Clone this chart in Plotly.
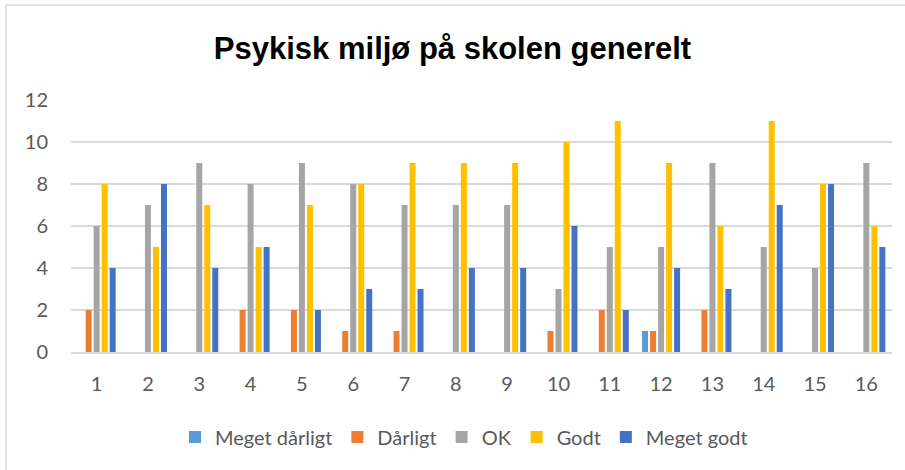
import plotly.graph_objects as go

categories = [str(i) for i in range(1, 17)]
series_names = ["Meget dårligt", "Dårligt", "OK", "Godt", "Meget godt"]
meget_darligt = [0, 0, 0, 0, 0, 0, 0, 0, 0, 0, 0, 1, 0, 0, 0, 0]
darligt = [2, 0, 0, 2, 2, 1, 1, 0, 0, 1, 2, 1, 2, 0, 0, 0]
ok = [6, 7, 9, 8, 9, 8, 7, 7, 7, 3, 5, 5, 9, 5, 4, 9]
godt = [8, 5, 7, 5, 7, 8, 9, 9, 9, 10, 11, 9, 6, 11, 8, 6]
meget_godt = [4, 8, 4, 5, 2, 3, 3, 4, 4, 6, 2, 4, 3, 7, 8, 5]
colors = ["#5B9BD5", "#ED7D31", "#A5A5A5", "#FFC000", "#4472C4"]
y_ticks = [0, 2, 4, 6, 8, 10, 12]

fig = go.Figure()
for name, vals, col in zip(series_names, [meget_darligt, darligt, ok, godt, meget_godt], colors):
    fig.add_trace(go.Bar(x=categories, y=vals, name=name, marker=dict(color=col, line=dict(width=0))))

L, R, T, B = 71, 13, 100, 118
W, H = 905, 470
pw, ph = W - L - R, H - T - B

def px_x(x):
    return (x - L) / pw

def px_y(y):
    return (H - B - y) / ph

fig.update_layout(
    width=W, height=H,
    margin=dict(l=L, r=R, t=T, b=B),
    paper_bgcolor="white", plot_bgcolor="white",
    barmode="group", bargap=0.22, bargroupgap=0.25,
    title=dict(text="<b>Psykisk miljø på skolen generelt</b>", x=0.5, xanchor="center",
               y=1 - 48 / H, yanchor="middle",
               font=dict(family="Liberation Sans, Arial", size=31, color="black")),
    font=dict(family="Lato, Carlito, Calibri, sans-serif", color="#595959"),
    xaxis=dict(showgrid=False, showline=True, linecolor="#D9D9D9", linewidth=1.5,
               tickfont=dict(size=20, color="#595959"), ticks="", ticklabelstandoff=13),
    yaxis=dict(range=[0, 12], tickvals=y_ticks, showgrid=True, gridcolor="#D9D9D9", gridwidth=1.5,
               zeroline=False, showline=False, tickfont=dict(size=20, color="#595959"),
               ticklabelstandoff=22),
    legend=dict(orientation="h", x=px_x(464), xanchor="center", y=px_y(437), yanchor="middle",
                font=dict(size=20, color="#595959"), traceorder="normal", itemwidth=30),
    showlegend=True,
)
fig.add_shape(type="line", xref="paper", yref="paper", x0=px_x(6), x1=px_x(6), y0=px_y(5), y1=px_y(470),
              line=dict(color="#D9D9D9", width=1.5))
fig.add_shape(type="line", xref="paper", yref="paper", x0=px_x(6), x1=px_x(905), y0=px_y(5), y1=px_y(5),
              line=dict(color="#D9D9D9", width=1.5))

fig.write_html("out.html", config={"displayModeBar": False},
               post_script="document.body.style.margin='0';document.body.style.overflow='hidden';")
